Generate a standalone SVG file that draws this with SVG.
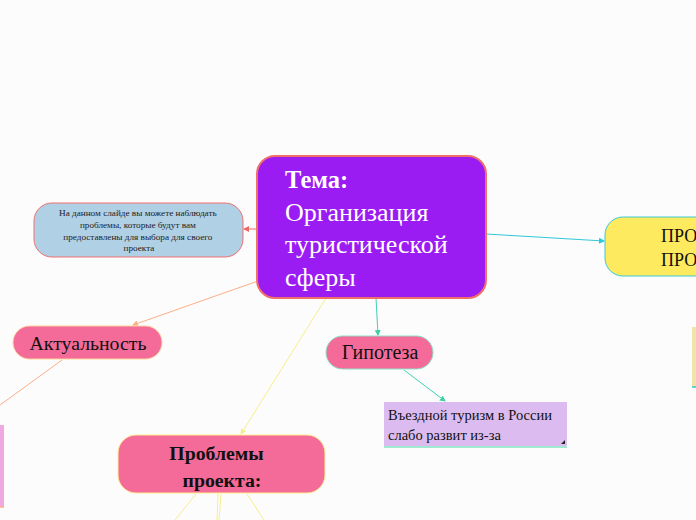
<svg xmlns="http://www.w3.org/2000/svg" width="696" height="520" viewBox="0 0 696 520">
<defs>
<style>
.t{font-family:"Liberation Serif","Times New Roman",serif;}
.c{fill:none;stroke-width:1;}
</style>
<marker id="ar" markerWidth="6" markerHeight="6" refX="5" refY="3" orient="auto" markerUnits="userSpaceOnUse"><path d="M0,0 L6,3 L0,6 Z" fill="#f06868"/></marker>
<marker id="at" markerWidth="6" markerHeight="6" refX="5" refY="3" orient="auto" markerUnits="userSpaceOnUse"><path d="M0,0 L6,3 L0,6 Z" fill="#30c8d8"/></marker>
<marker id="ao" markerWidth="6" markerHeight="6" refX="5" refY="3" orient="auto" markerUnits="userSpaceOnUse"><path d="M0,0 L6,3 L0,6 Z" fill="#fcae88"/></marker>
<marker id="ay" markerWidth="6" markerHeight="6" refX="5" refY="3" orient="auto" markerUnits="userSpaceOnUse"><path d="M0,0 L6,3 L0,6 Z" fill="#f6ee8a"/></marker>
<marker id="am" markerWidth="6" markerHeight="6" refX="5" refY="3" orient="auto" markerUnits="userSpaceOnUse"><path d="M0,0 L6,3 L0,6 Z" fill="#40d0a8"/></marker>
</defs>
<rect width="696" height="520" fill="#fcfcfc"/>
<g id="connectors">
<line class="c" x1="257" y1="229" x2="244" y2="229" stroke="#f06868" marker-end="url(#ar)"/>
<line class="c" x1="486" y1="234" x2="604" y2="241" stroke="#30c8d8" marker-end="url(#at)"/>
<line class="c" x1="258" y1="281" x2="133" y2="325" stroke="#fcae88" marker-end="url(#ao)"/>
<line class="c" x1="62" y1="360" x2="0" y2="405" stroke="#fcae88"/>
<line class="c" x1="326" y1="298" x2="241" y2="434" stroke="#f6ee8a" marker-end="url(#ay)"/>
<line class="c" x1="376" y1="298" x2="378" y2="335" stroke="#40d0b0" marker-end="url(#am)"/>
<line class="c" x1="404" y1="370" x2="445" y2="401" stroke="#40d0b0" marker-end="url(#am)"/>
<line class="c" x1="196" y1="494" x2="175" y2="520" stroke="#f6ee8a"/>
<line class="c" x1="218" y1="494" x2="217" y2="520" stroke="#f6ee8a"/>
<line class="c" x1="221" y1="494" x2="219" y2="520" stroke="#f6ee8a"/>
<line class="c" x1="247" y1="494" x2="264" y2="520" stroke="#f6ee8a"/>
</g>
<g id="central">
<rect x="257" y="156" width="229" height="142" rx="18" fill="#9b1cf3" stroke="#f07068" stroke-width="2"/>
<text class="t" x="285" y="188" font-size="24.5" font-weight="bold" fill="#ffffff">Тема:</text>
<text class="t" x="285" y="221" font-size="26" fill="#ffffff">Организация</text>
<text class="t" x="285" y="253" font-size="26" fill="#ffffff">туристической</text>
<text class="t" x="285" y="286" font-size="26" fill="#ffffff">сферы</text>
</g>
<g id="note">
<rect x="34" y="203" width="209" height="54" rx="18" fill="#b0d0e6" stroke="#f07070" stroke-width="1"/>
<text class="t" font-size="9.2" fill="#222" text-anchor="middle">
<tspan x="139" y="216">На данном слайде вы можете наблюдать</tspan>
<tspan x="139" y="228">проблемы, которые будут вам</tspan>
<tspan x="139" y="240">предоставлены для выбора для своего</tspan>
<tspan x="139" y="251">проекта</tspan>
</text>
</g>
<g id="pro">
<rect x="605" y="217" width="110" height="59" rx="18" fill="#fdea5e" stroke="#3cc8d8" stroke-width="1"/>
<text class="t" x="661" y="242" font-size="18" fill="#111">ПРО</text>
<text class="t" x="661" y="266" font-size="18" fill="#111">ПРО</text>
</g>
<g id="rightbox">
<rect x="692" y="327" width="10" height="60" fill="#efe5a8"/>
<line x1="692" y1="387" x2="696" y2="387" stroke="#30c8c8" stroke-width="1.5"/>
</g>
<g id="aktual">
<rect x="13" y="326" width="149" height="33" rx="16.5" fill="#f46b9a" stroke="#fcd49a" stroke-width="1"/>
<text class="t" x="88" y="350" font-size="19.8" fill="#111" text-anchor="middle">Актуальность</text>
</g>
<g id="leftbox">
<rect x="-6" y="425" width="10" height="82" fill="#eeaae0"/>
<line x1="0" y1="507" x2="4" y2="507" stroke="#fcae88" stroke-width="1.5"/>
</g>
<g id="problemy">
<rect x="118" y="435" width="207" height="58" rx="18" fill="#f46b9a" stroke="#fdf08a" stroke-width="1"/>
<text class="t" font-size="19.8" font-weight="bold" fill="#111" text-anchor="middle">
<tspan x="219" y="460">Проблемы</tspan>
<tspan x="222" y="487">проекта:</tspan>
</text>
</g>
<g id="gipoteza">
<rect x="326" y="336" width="107" height="33" rx="16.5" fill="#f46b9a" stroke="#8fe0c8" stroke-width="1"/>
<text class="t" x="380" y="359" font-size="20" fill="#111" text-anchor="middle">Гипотеза</text>
</g>
<g id="vezd">
<rect x="384" y="402" width="183" height="45" fill="#dcbcf0"/>
<line x1="384" y1="447" x2="567" y2="447" stroke="#a0e8d0" stroke-width="2"/>
<text class="t" x="388" y="420" font-size="14.5" fill="#111">Въездной туризм в России</text>
<text class="t" x="388" y="440" font-size="14.5" fill="#111">слабо развит из-за</text>
<path d="M565,440 L565,444 L561,444 Z" fill="#222"/>
</g>
</svg>
